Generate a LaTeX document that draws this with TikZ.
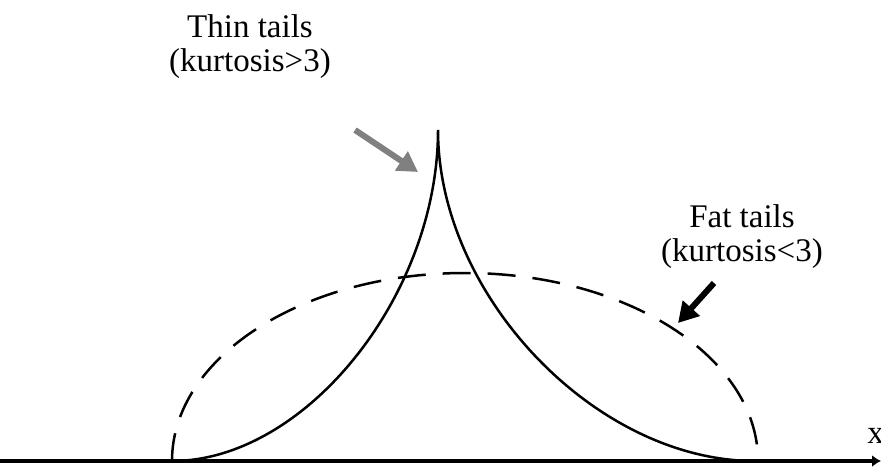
\documentclass[tikz,border=0pt]{standalone}
\usepackage{fontspec}
\setmainfont{Liberation Serif}
\usetikzlibrary{arrows, arrows.meta}

\begin{document}
\begin{tikzpicture}[x=0.5pt, y=-0.5pt,
		>={Latex[length=4.5pt, width=6pt]},   % default arrow tips
		font=\fontsize{16.5}{17}\selectfont,
		tailtext/.style={align=center, inner sep=0pt},
		curveline/.style={line width=1.25pt},
		pointer/.style={line width=3pt, -{Triangle[length=10pt, width=11pt]}}]
		% picture area
		\useasboundingbox (0,0) rectangle (881,466);
		% x axis
		\coordinate (axis start) at (0,461);
		\coordinate (axis end) at (881,461);
		\draw[->, line width=2.2pt] (axis start) -- (axis end);
		\node[anchor=base west, inner sep=0pt] (xlabel) at (867,443) {x};
		% thin tails (peaked curve)
		\coordinate (thin left) at (172,461);
		\coordinate (thin peak) at (438,130);
		\coordinate (thin right) at (755,461);
		\draw[curveline] (thin left) .. controls (305,461) and (438,296) .. (thin peak)
			.. controls (438,296) and (596,461) .. (thin right);
		% fat tails (dashed curve)
		\draw[curveline, dash pattern=on 14pt off 8.5pt] (thin left)
			arc[start angle=180, end angle=360, x radius=293, y radius=188];
		% labels
		\node[tailtext] (thin label) at (250,47) {Thin tails\\(kurtosis>3)};
		\node[tailtext] (fat label) at (742,237) {Fat tails\\(kurtosis<3)};
		% pointers
		\coordinate (thin from) at (355,130);
		\coordinate (thin to) at (418,172);
		\draw[pointer, black!50] (thin from) -- (thin to);
		\coordinate (fat from) at (714,283);
		\coordinate (fat to) at (678,323);
		\draw[pointer, black] (fat from) -- (fat to);
	\end{tikzpicture}
\end{document}
